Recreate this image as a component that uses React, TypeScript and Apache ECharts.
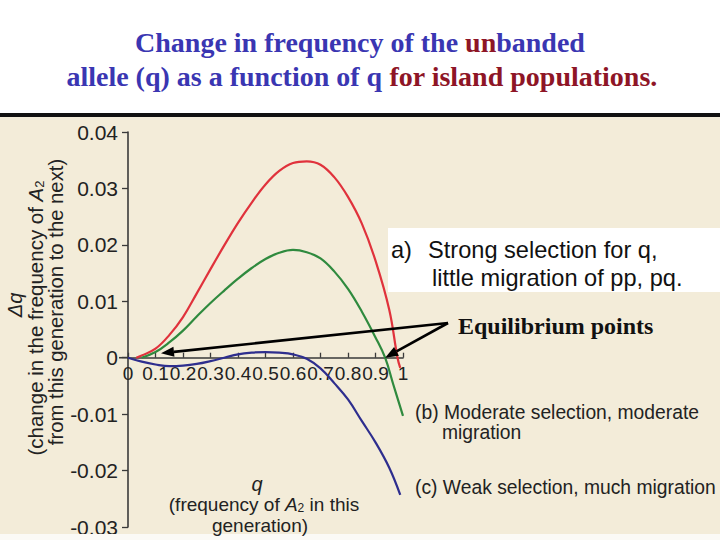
import React, { useEffect, useRef } from "react";
import * as echarts from "echarts";

// ---------- data ----------
const xTickValues = [0, 0.1, 0.2, 0.3, 0.4, 0.5, 0.6, 0.7, 0.8, 0.9, 1];
const yTickValues = [-0.03, -0.02, -0.01, 0, 0.01, 0.02, 0.03, 0.04];

// (a) strong selection, little migration (red)
const redQ = [0.03, 0.05, 0.1, 0.15, 0.2, 0.25, 0.3, 0.35, 0.4, 0.45, 0.5, 0.55, 0.6, 0.65, 0.7, 0.75, 0.8, 0.85, 0.9, 0.95, 0.98, 0.99];
const redDq = [0, 0.0004, 0.0016, 0.004, 0.0072, 0.0114, 0.0157, 0.0199, 0.0239, 0.0275, 0.0307, 0.0331, 0.0345, 0.0348, 0.0342, 0.032, 0.0285, 0.0238, 0.0172, 0.0085, 0.0, -0.0018];

// (b) moderate selection, moderate migration (green)
const greenQ = [0.05, 0.1, 0.15, 0.2, 0.25, 0.3, 0.35, 0.4, 0.45, 0.5, 0.55, 0.6, 0.65, 0.7, 0.75, 0.8, 0.85, 0.9, 0.935, 0.965, 1.0];
const greenDq = [0, 0.001, 0.0027, 0.0048, 0.0073, 0.0097, 0.0119, 0.014, 0.0159, 0.0175, 0.0186, 0.0191, 0.0187, 0.0176, 0.0153, 0.0122, 0.0082, 0.0036, 0, -0.0048, -0.0103];

// (c) weak selection, much migration (blue)
const blueQ = [0, 0.05, 0.1, 0.15, 0.2, 0.25, 0.3, 0.35, 0.4, 0.45, 0.5, 0.55, 0.6, 0.65, 0.7, 0.75, 0.8, 0.85, 0.9, 0.95, 0.99];
const blueDq = [0, -0.0007, -0.0012, -0.0015, -0.0014, -0.0011, -0.0006, 0, 0.0006, 0.0009, 0.001, 0.0009, 0.0006, -0.0002, -0.0019, -0.0045, -0.0074, -0.0112, -0.015, -0.0195, -0.0243];

// equilibrium points pointed at by the arrows
const equilibriumLeft = [0.12, 0.0008];
const equilibriumRight = [0.935, 0];

// axis ranges
const X_MIN = 0;
const X_MAX = 1;
const Y_MIN = -0.03;
const Y_MAX = 0.04;

// ---------- styles ----------
const SANS = "'Liberation Sans', Arial, Helvetica, sans-serif";
const SERIF = "'Liberation Serif', 'Times New Roman', serif";
const BLUE_T = "#3a36b2";
const RED_T = "#8e1526";
const BG = "#f3ecd9";
const INK = "#222222";
const AXIS = "#3a3a3a";
const GRID = { left: 128, top: 132, width: 275, height: 395 };

const zip = (a: number[], b: number[]) => a.map((v, i) => [v, b[i]]);

function arrowGraphics(from: number[], to: number[]) {
  const dx = to[0] - from[0];
  const dy = to[1] - from[1];
  const len = Math.sqrt(dx * dx + dy * dy);
  const ux = dx / len;
  const uy = dy / len;
  const headLen = 13;
  const headW = 5;
  const bx = to[0] - ux * headLen;
  const by = to[1] - uy * headLen;
  const px = -uy;
  const py = ux;
  return [
    {
      type: "line",
      z: 20,
      shape: { x1: from[0], y1: from[1], x2: bx, y2: by },
      style: { stroke: "#000", lineWidth: 2.6 },
    },
    {
      type: "polygon",
      z: 20,
      shape: {
        points: [
          [to[0], to[1]],
          [bx + px * headW, by + py * headW],
          [bx - px * headW, by - py * headW],
        ],
      },
      style: { fill: "#000" },
    },
  ];
}

export default function App() {
  const ref = useRef<HTMLDivElement>(null);

  useEffect(() => {
    if (!ref.current) return;
    const chart = echarts.init(ref.current, null, { renderer: "svg" });

    const fmt = (v: number, digits: number) => {
      const r = Math.round(v * 10000) / 10000;
      if (r === 0) return "0";
      if (r === 1) return "1";
      return r.toFixed(digits);
    };

    // move the x axis (line, ticks, labels) up to the zero line of the y axis
    const zeroOffset = -GRID.height * ((0 - Y_MIN) / (Y_MAX - Y_MIN));

    chart.setOption({
      animation: false,
      backgroundColor: BG,
      grid: { ...GRID, containLabel: false },
      xAxis: {
        type: "value",
        min: X_MIN,
        max: X_MAX,
        interval: 0.1,
        position: "bottom",
        offset: zeroOffset,
        axisLine: { onZero: false, lineStyle: { color: AXIS, width: 1.6 } },
        axisTick: { show: true, inside: true, length: 5, lineStyle: { color: AXIS, width: 1.3 } },
        splitLine: { show: false },
        axisLabel: {
          color: INK,
          fontFamily: SANS,
          fontSize: 19,
          margin: 6,
          hideOverlap: false,
          formatter: (v: number) => fmt(v, 1),
        },
      },
      yAxis: {
        type: "value",
        min: Y_MIN,
        max: Y_MAX,
        interval: 0.01,
        axisLine: { show: true, onZero: false, lineStyle: { color: AXIS, width: 1.6 } },
        axisTick: { show: true, inside: false, length: 6, lineStyle: { color: AXIS, width: 1.3 } },
        splitLine: { show: false },
        axisLabel: {
          color: INK,
          fontFamily: SANS,
          fontSize: 21,
          margin: 10,
          formatter: (v: number) => fmt(v, 2),
        },
      },
      series: [
        {
          name: "(a) Strong selection, little migration",
          type: "line",
          data: zip(redQ, redDq),
          smooth: 0.4,
          showSymbol: false,
          lineStyle: { color: "#e0323c", width: 2.2 },
          z: 3,
        },
        {
          name: "(b) Moderate selection, moderate migration",
          type: "line",
          data: zip(greenQ, greenDq),
          smooth: 0.4,
          showSymbol: false,
          lineStyle: { color: "#2f8a3e", width: 2.2 },
          z: 3,
        },
        {
          name: "(c) Weak selection, much migration",
          type: "line",
          data: zip(blueQ, blueDq),
          smooth: 0.4,
          showSymbol: false,
          lineStyle: { color: "#2e2e8e", width: 2.2 },
          z: 3,
        },
      ],
    });

    const tipL = chart.convertToPixel({ gridIndex: 0 }, equilibriumLeft) as number[];
    const tipR = chart.convertToPixel({ gridIndex: 0 }, equilibriumRight) as number[];
    const origin = chart.convertToPixel({ gridIndex: 0 }, [X_MIN, 0]) as number[];
    const arrowStart = [448, 323];

    const sansText = (x: number, y: number, text: string, size: number, extra: any = {}) => ({
      type: "text",
      x,
      y,
      z: 15,
      style: {
        text,
        fill: INK,
        fontFamily: SANS,
        fontSize: size,
        align: "left",
        verticalAlign: "middle",
        ...extra,
      },
    });

    const richSub = (size: number) => ({
      i: { fontStyle: "italic", fontFamily: SANS, fontSize: size, fill: INK },
      s: { fontFamily: SANS, fontSize: Math.round(size * 0.65), fill: INK, verticalAlign: "bottom", lineHeight: size },
    });

    chart.setOption({
      graphic: [
        // white header
        { type: "rect", z: 1, shape: { x: 0, y: 0, width: 720, height: 113 }, style: { fill: "#ffffff" } },
        { type: "rect", z: 1, shape: { x: 0, y: 113, width: 720, height: 4 }, style: { fill: "#111111" } },
        { type: "rect", z: 1, shape: { x: 0, y: 534, width: 720, height: 6 }, style: { fill: "#fbfaf6" } },
        // short extension of the x axis line to the left of the y axis
        {
          type: "line",
          z: 5,
          shape: { x1: origin[0] - 9, y1: origin[1], x2: origin[0], y2: origin[1] },
          style: { stroke: AXIS, lineWidth: 1.6 },
        },
        // title
        {
          type: "text",
          x: 360,
          y: 42,
          z: 15,
          style: {
            text: "{b|Change in frequency of the }{r|un}{b|banded}",
            align: "center",
            verticalAlign: "middle",
            rich: {
              b: { fill: BLUE_T, fontFamily: SERIF, fontWeight: "bold", fontSize: 28 },
              r: { fill: RED_T, fontFamily: SERIF, fontWeight: "bold", fontSize: 28 },
            },
          },
        },
        {
          type: "text",
          x: 362,
          y: 76,
          z: 15,
          style: {
            text: "{b|allele (q) as a function of q }{r|for island populations.}",
            align: "center",
            verticalAlign: "middle",
            rich: {
              b: { fill: BLUE_T, fontFamily: SERIF, fontWeight: "bold", fontSize: 28 },
              r: { fill: RED_T, fontFamily: SERIF, fontWeight: "bold", fontSize: 28 },
            },
          },
        },
        // y axis title (rotated)
        {
          type: "text",
          x: 15,
          y: 305,
          rotation: Math.PI / 2,
          z: 15,
          style: { text: "Δq", fill: INK, fontFamily: SANS, fontStyle: "italic", fontSize: 20, align: "center", verticalAlign: "middle" },
        },
        {
          type: "text",
          x: 35,
          y: 318,
          rotation: Math.PI / 2,
          z: 15,
          style: {
            text: "(change in the frequency of {i|A}{s|2}",
            fill: INK,
            fontFamily: SANS,
            fontSize: 20.5,
            align: "center",
            verticalAlign: "middle",
            rich: richSub(20.5),
          },
        },
        {
          type: "text",
          x: 56,
          y: 302,
          rotation: Math.PI / 2,
          z: 15,
          style: { text: "from this generation to the next)", fill: INK, fontFamily: SANS, fontSize: 20.3, align: "center", verticalAlign: "middle" },
        },
        // x axis title
        sansText(257, 484, "q", 20, { align: "center", fontStyle: "italic" }),
        {
          type: "text",
          x: 264,
          y: 504.5,
          z: 15,
          style: {
            text: "(frequency of {i|A}{s|2} in this",
            fill: INK,
            fontFamily: SANS,
            fontSize: 19,
            align: "center",
            verticalAlign: "middle",
            rich: richSub(19),
          },
        },
        sansText(260, 525, "generation)", 19, { align: "center" }),
        // annotation box (a)
        { type: "rect", z: 12, shape: { x: 388, y: 228, width: 332, height: 64 }, style: { fill: "#ffffff" } },
        sansText(391, 250, "a)", 23.6, { fill: "#111" }),
        sansText(428, 250, "Strong selection for q,", 23.6, { fill: "#111" }),
        sansText(432, 278, "little migration of pp, pq.", 23.6, { fill: "#111" }),
        // equilibrium label
        {
          type: "text",
          x: 458,
          y: 326,
          z: 15,
          style: { text: "Equilibrium points", fill: "#111", fontFamily: SERIF, fontWeight: "bold", fontSize: 24, align: "left", verticalAlign: "middle" },
        },
        ...arrowGraphics(arrowStart, tipL),
        ...arrowGraphics(arrowStart, tipR),
        // curve labels
        sansText(415, 412, "(b) Moderate selection, moderate", 19.3),
        sansText(442, 432, "migration", 19.3),
        sansText(415, 487, "(c) Weak selection, much migration", 19.3),
      ],
    });

    return () => chart.dispose();
  }, []);

  return (
    <div
      ref={ref}
      style={{ position: "fixed", left: 0, top: 0, width: 720, height: 540 }}
    />
  );
}
